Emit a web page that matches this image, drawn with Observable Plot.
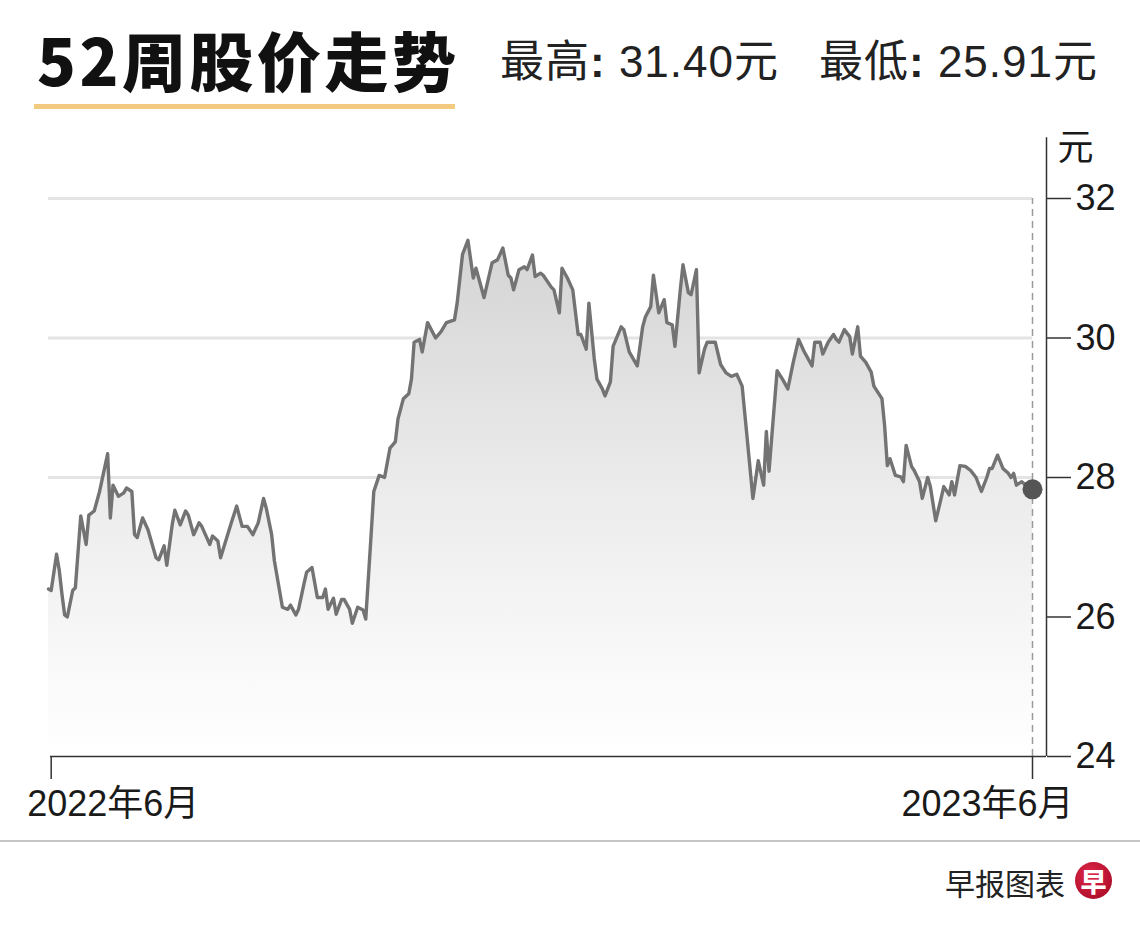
<!DOCTYPE html>
<html>
<head>
<meta charset="utf-8">
<script src="https://cdn.jsdelivr.net/npm/d3@7"></script>
<script src="https://cdn.jsdelivr.net/npm/@observablehq/plot@0.6"></script>
<style>
  html, body { margin: 0; padding: 0; background: #fff; }
  body { width: 1140px; height: 928px; overflow: hidden; font-family: "Liberation Sans", "Noto Sans CJK SC", sans-serif; color: #1a1a1a; }
  #header { position: relative; height: 120px; }
  #title { position: absolute; left: 37px; top: 26px; font-family: "Noto Sans CJK SC", sans-serif; font-weight: 900; font-size: 64px; line-height: 64px; color: #111; letter-spacing: 3.5px; white-space: nowrap; }
  #underline { position: absolute; left: 34px; top: 104px; width: 421px; height: 5px; background: #f2ca80; }
  #stats { position: absolute; left: 500px; top: 38px; font-size: 44px; line-height: 48px; color: #222; white-space: nowrap; letter-spacing: 1px; }
  #stats b { font-weight: 700; }
  #stats .gap { display: inline-block; width: 40px; }
  #chart { position: relative; height: 720px; }
  #footer { position: relative; height: 88px; border-top: 2px solid #c6c6c6; }
  #source { position: absolute; right: 75px; top: 22px; font-family: "Noto Sans CJK SC", sans-serif; font-size: 30px; line-height: 36px; color: #222; }
  #logo { position: absolute; left: 1075px; top: 20px; width: 37px; height: 37px; border-radius: 50%; background: radial-gradient(circle at 40% 35%, #e0284a, #b3102c 70%, #8c0a20); color: #fff; font-family: "Noto Sans CJK SC", sans-serif; font-weight: 900; font-size: 26px; line-height: 37px; text-align: center; }
</style>
</head>
<body>
<div id="header">
  <div id="title">52周股价走势</div>
  <div id="underline"></div>
  <div id="stats"></div>
</div>
<div id="chart"></div>
<div id="footer">
  <div id="source">早报图表</div>
  <div id="logo">早</div>
</div>
<script>
// ---- data ----
const startDate = "2022-05-31";
const dayOffsets = [
  0,1,3,4,5,6,7,9,10,12,
  14,15,17,19,22,23,24,26,28,29,
  31,32,33,35,37,40,41,43,44,46,
  47,49,51,52,54,56,57,60,61,63,
  64,68,70,72,74,76,78,80,81,83,
  84,87,89,90,92,93,95,96,98,100,
  102,103,104,106,107,109,110,112,113,115,
  117,118,120,121,123,125,127,129,130,132,
  134,135,136,138,139,141,144,146,148,151,
  152,154,156,158,159,162,165,167,169,171,
  172,173,175,177,178,180,181,183,184,187,
  188,190,191,193,195,197,198,200,201,203,
  204,206,207,209,210,213,214,216,219,221,
  222,224,225,227,229,230,232,233,235,236,
  238,239,241,242,244,245,248,250,252,254,
  256,258,260,262,264,266,267,268,271,273,
  275,277,279,281,284,285,287,288,290,292,
  293,294,296,298,299,301,302,304,306,307,
  310,311,312,313,315,317,318,319,321,322,
  324,325,327,328,330,332,333,335,336,337,
  339,341,343,345,347,349,350,351,353,355,
  357,358,359,360,362,364,366
];
const prices = [
  26.40,26.38,26.90,26.67,26.33,26.03,26.00,26.38,26.42,27.45,
  27.04,27.46,27.52,27.80,28.34,27.42,27.89,27.73,27.78,27.85,
  27.80,27.18,27.14,27.42,27.25,26.85,26.82,27.02,26.74,27.32,
  27.53,27.32,27.52,27.46,27.18,27.35,27.30,27.04,27.16,27.09,
  26.85,27.35,27.59,27.30,27.30,27.18,27.35,27.70,27.56,27.18,
  26.81,26.14,26.11,26.17,26.03,26.11,26.47,26.64,26.71,26.28,
  26.28,26.40,26.11,26.27,26.04,26.25,26.25,26.11,25.91,26.14,
  26.10,25.97,27.18,27.80,28.03,28.00,28.42,28.51,28.84,29.13,
  29.20,29.41,29.94,29.98,29.80,30.22,30.00,30.09,30.22,30.26,
  30.50,31.20,31.40,30.86,31.00,30.58,31.08,31.12,31.29,30.90,
  30.86,30.69,30.98,31.02,30.98,31.19,30.88,30.93,30.90,30.73,
  30.69,30.36,31.00,30.86,30.69,30.05,30.05,29.84,30.50,29.70,
  29.41,29.27,29.17,29.37,29.88,30.16,30.12,29.80,29.60,30.16,
  30.30,30.45,30.90,30.36,30.55,30.22,30.19,29.88,30.69,31.05,
  30.65,30.62,30.98,29.50,29.84,29.94,29.94,29.62,29.50,29.45,
  29.48,29.31,28.51,27.70,28.24,27.89,28.66,28.09,29.53,29.41,
  29.27,29.65,29.98,29.81,29.60,29.94,29.94,29.77,29.94,30.05,
  29.98,29.94,30.12,30.02,29.77,30.16,29.74,29.65,29.51,29.31,
  29.13,28.74,28.17,28.27,28.03,28.01,27.94,28.46,28.16,28.10,
  27.94,27.70,28.00,27.87,27.38,27.70,27.87,27.75,27.94,27.75,
  28.17,28.16,28.10,28.00,27.80,28.00,28.13,28.13,28.32,28.13,
  28.06,28.00,28.06,27.89,27.94,27.87,27.83
];
const yTicks = [24, 26, 28, 30, 32];
const gridValues = [26, 28, 30, 32];
const xTickDates = ["2022-06-01", "2023-06-01"];
const xTickLabels = ["2022年6月", "2023年6月"];
const titleText = "52周股价走势";
const highLabel = "最高";
const lowLabel = "最低";
const highValue = "31.40";
const lowValue = "25.91";
const unitLabel = "元";

// ---- build ----
document.getElementById("title").textContent = titleText;
document.getElementById("stats").innerHTML =
  `${highLabel}<b>:</b> ${highValue}${unitLabel}<span class="gap"></span>${lowLabel}<b>:</b> ${lowValue}${unitLabel}`;

const t0 = d3.utcParse("%Y-%m-%d")(startDate);
const data = dayOffsets.map((d, i) => ({ date: d3.utcDay.offset(t0, d), price: prices[i] }));
const last = data[data.length - 1];
const tickDates = xTickDates.map(d3.utcParse("%Y-%m-%d"));

const gradientDefs = () => {
  const ns = "http://www.w3.org/2000/svg";
  const defs = document.createElementNS(ns, "defs");
  const lg = document.createElementNS(ns, "linearGradient");
  lg.setAttribute("id", "areaGrad");
  lg.setAttribute("x1", "0"); lg.setAttribute("y1", "0");
  lg.setAttribute("x2", "0"); lg.setAttribute("y2", "1");
  [["0%", "#d4d4d4"], ["45%", "#eaeaea"], ["80%", "#f8f8f8"], ["100%", "#ffffff"]].forEach(([o, c]) => {
    const s = document.createElementNS(ns, "stop");
    s.setAttribute("offset", o); s.setAttribute("stop-color", c);
    lg.appendChild(s);
  });
  defs.appendChild(lg);
  return defs;
};

const font = `"Liberation Sans", "Noto Sans CJK SC", sans-serif`;

const chart = Plot.plot({
  width: 1140,
  height: 720,
  marginTop: 78,
  marginBottom: 84,
  marginLeft: 48,
  marginRight: 108,
  style: { fontFamily: font, color: "#1a1a1a", background: "transparent", overflow: "visible" },
  x: { type: "utc", domain: [t0, last.date] },
  y: { domain: [24, 32] },
  marks: [
    gradientDefs,
    Plot.ruleY(gridValues, { stroke: "#e4e4e4", strokeWidth: 3 }),
    Plot.areaY(data, { x: "date", y1: 24, y2: "price", fill: "url(#areaGrad)" }),
    Plot.ruleX([last.date], { y1: 24, y2: 32, stroke: "#9a9a9a", strokeWidth: 1.5, strokeDasharray: "7,5" }),
    Plot.lineY(data, { x: "date", y: "price", stroke: "#737373", strokeWidth: 3.4, strokeLinejoin: "round" }),
    Plot.dot([last], { x: "date", y: "price", r: 10, fill: "#555", stroke: "none" }),
    // x baseline
    Plot.ruleY([24], { stroke: "#333", strokeWidth: 1.5, insetLeft: 2, insetRight: -14 }),
    // y axis line
    Plot.ruleX([last.date], { y1: 24, y2: 32.87, dx: 14, stroke: "#333", strokeWidth: 1.5 }),
    Plot.axisY(yTicks, { anchor: "right", label: null, tickSize: 24, tickPadding: 5, dx: 14, fontSize: 36, stroke: "#333", strokeWidth: 1.5, tickFormat: d => d, fill: "#1a1a1a" }),
    Plot.text([unitLabel], { frameAnchor: "top-right", dx: 61, dy: -64, fontSize: 36, fill: "#1a1a1a" }),
    Plot.axisX(tickDates, { anchor: "bottom", label: null, tickSize: 23, tickFormat: () => "", stroke: "#333", strokeWidth: 1.5 }),
    Plot.text([tickDates[0]], { x: d => d, frameAnchor: "bottom", dy: 59, dx: -24, textAnchor: "start", text: () => xTickLabels[0], fontSize: 36, fill: "#1a1a1a" }),
    Plot.text([tickDates[1]], { x: d => d, frameAnchor: "bottom", dy: 59, dx: 41, textAnchor: "end", text: () => xTickLabels[1], fontSize: 36, fill: "#1a1a1a" })
  ]
});
document.getElementById("chart").appendChild(chart);
</script>
</body>
</html>
